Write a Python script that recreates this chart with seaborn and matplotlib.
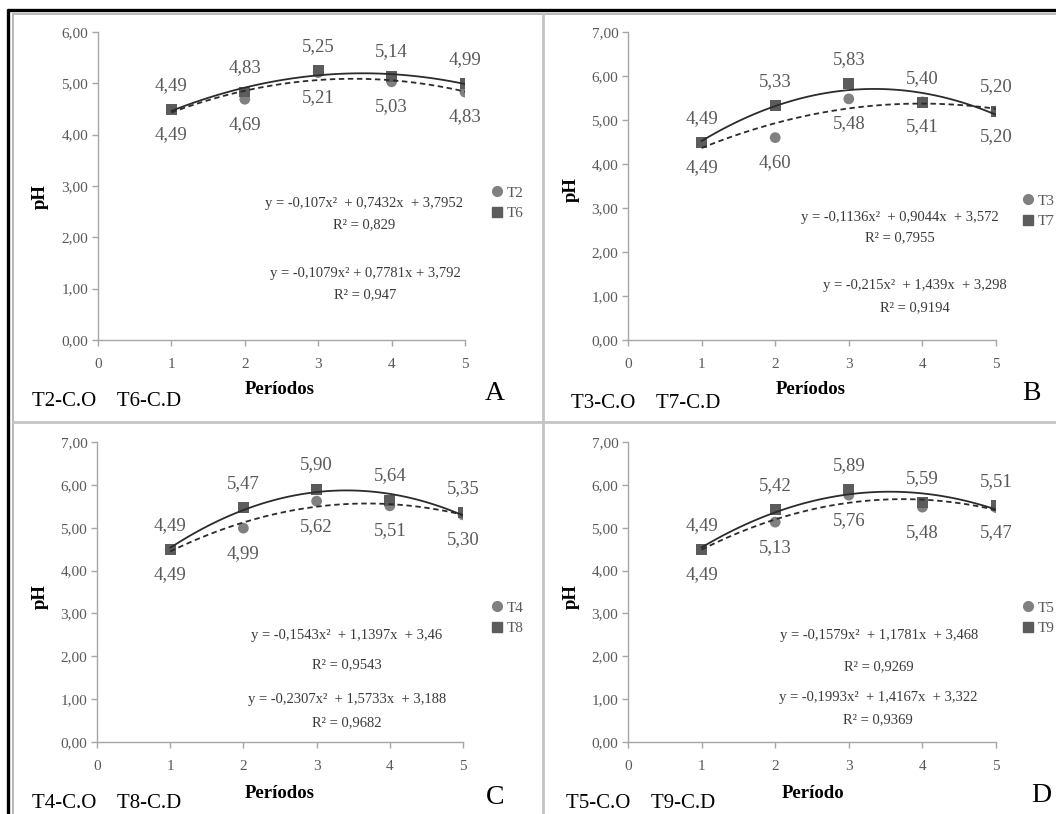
import numpy as np
import pandas as pd
import seaborn as sns
import matplotlib
matplotlib.use("Agg")
import matplotlib.pyplot as plt
from matplotlib.lines import Line2D

# ---------------- data ----------------
periods = [1, 2, 3, 4, 5]
t2 = [4.49, 4.69, 5.21, 5.03, 4.83]
t6 = [4.49, 4.83, 5.25, 5.14, 4.99]
t3 = [4.49, 4.60, 5.48, 5.41, 5.20]
t7 = [4.49, 5.33, 5.83, 5.40, 5.20]
t4 = [4.49, 4.99, 5.62, 5.51, 5.30]
t8 = [4.49, 5.47, 5.90, 5.64, 5.35]
t5 = [4.49, 5.13, 5.76, 5.48, 5.47]
t9 = [4.49, 5.42, 5.89, 5.59, 5.51]

circle_series = [t2, t3, t4, t5]
square_series = [t6, t7, t8, t9]
circle_names = ["T2", "T3", "T4", "T5"]
square_names = ["T6", "T7", "T8", "T9"]
panel_letters = ["A", "B", "C", "D"]
corner_labels = ["T2-C.O    T6-C.D", "T3-C.O    T7-C.D",
                 "T4-C.O    T8-C.D", "T5-C.O    T9-C.D"]
x_titles = ["Períodos", "Períodos", "Períodos", "Período"]
y_tops = [6, 7, 7, 7]
eq_circle = ["y = -0,107x²  + 0,7432x  + 3,7952",
             "y = -0,1136x²  + 0,9044x  + 3,572",
             "y = -0,1543x²  + 1,1397x  + 3,46",
             "y = -0,1579x²  + 1,1781x  + 3,468"]
r2_circle = ["R² = 0,829", "R² = 0,7955", "R² = 0,9543", "R² = 0,9269"]
eq_square = ["y = -0,1079x² + 0,7781x + 3,792",
             "y = -0,215x²  + 1,439x  + 3,298",
             "y = -0,2307x²  + 1,5733x  + 3,188",
             "y = -0,1993x²  + 1,4167x  + 3,322"]
r2_square = ["R² = 0,947", "R² = 0,9194", "R² = 0,9682", "R² = 0,9369"]

# ---------------- layout (pixels) ----------------
W, H = 1056, 814
axes_px = [(98, 32, 465, 340), (628, 32, 996, 340),
           (97, 442, 463, 742), (628, 442, 996, 742)]
eq_px = [[(364, 203), (364, 225), (365, 273), (365, 295)],
         [(900, 217), (900, 238), (915, 285), (915, 308)],
         [(347, 635), (347, 665), (347, 700), (347, 723)],
         [(879, 635), (879, 667), (878, 698), (878, 720)]]
ph_px = [(40, 197), (571, 190), (40, 597), (571, 597)]
xl_px = [(280, 390), (811, 390), (280, 793), (813, 793)]
corner_px = [(32, 402), (571, 403), (32, 803), (566, 803)]
letter_px = [(495, 393), (1031, 393), (495, 797), (1041, 795)]
legend_px = [(497, 195), (1028, 203), (497, 610), (1028, 610)]

sns.set_theme(style="white")
plt.rcParams["font.family"] = ["Liberation Serif", "DejaVu Serif"]

fig = plt.figure(figsize=(W / 100, H / 100), dpi=100)


def fx(x):
    return x / W


def fy(y):
    return 1 - y / H


circ_col = "#808080"
sq_col = "#5c5c5c"
txt_col = "#595959"

for i in range(4):
    l, t, r, b = axes_px[i]
    ax = fig.add_axes([fx(l), fy(b), (r - l) / W, (b - t) / H])
    df = pd.DataFrame({"Período": periods, "circ": circle_series[i], "sq": square_series[i]})

    sns.scatterplot(data=df, x="Período", y="circ", ax=ax, marker="o", s=60,
                    color=circ_col, edgecolor="none", zorder=3, legend=False)
    sns.scatterplot(data=df, x="Período", y="sq", ax=ax, marker="s", s=60,
                    color=sq_col, edgecolor="none", zorder=3, legend=False)
    sns.regplot(data=df, x="Período", y="circ", ax=ax, order=2, ci=None, scatter=False,
                line_kws=dict(color="#2b2b2b", lw=1.3, ls=(0, (3, 2)), zorder=4))
    sns.regplot(data=df, x="Período", y="sq", ax=ax, order=2, ci=None, scatter=False,
                line_kws=dict(color="#2b2b2b", lw=1.3, ls="-", zorder=4))

    for xv, cv, sv in zip(periods, circle_series[i], square_series[i]):
        ax.annotate(f"{sv:.2f}".replace(".", ","), (xv, sv), xytext=(0, 17.5),
                    textcoords="offset points", ha="center", va="center",
                    fontsize=13.5, color=txt_col)
        ax.annotate(f"{cv:.2f}".replace(".", ","), (xv, cv), xytext=(0, -18),
                    textcoords="offset points", ha="center", va="center",
                    fontsize=13.5, color=txt_col)

    ax.set_xlim(0, 5)
    ax.set_ylim(0, y_tops[i])
    ax.set_xticks(range(0, 6))
    ax.set_yticks(range(0, y_tops[i] + 1))
    ax.set_yticklabels([f"{v:.2f}".replace(".", ",") for v in range(0, y_tops[i] + 1)])
    ax.set_xlabel("")
    ax.set_ylabel("")
    for s in ["top", "right"]:
        ax.spines[s].set_visible(False)
    for s in ["left", "bottom"]:
        ax.spines[s].set_color("#a6a6a6")
        ax.spines[s].set_linewidth(1.0)
    ax.tick_params(axis="both", which="major", direction="out", length=4, width=1,
                   color="#a6a6a6", labelsize=11, labelcolor=txt_col, left=True, bottom=True)
    ax.tick_params(axis="x", pad=9)
    ax.tick_params(axis="y", pad=3)
    ax.set_facecolor("white")

    # equations
    texts = [eq_circle[i], r2_circle[i], eq_square[i], r2_square[i]]
    for (px, py), s in zip(eq_px[i], texts):
        fig.text(fx(px), fy(py), s, ha="center", va="center", fontsize=10.5, color="#3a3a3a")

    fig.text(fx(ph_px[i][0]), fy(ph_px[i][1]), "pH", rotation=90, ha="center", va="center",
             fontsize=13.5, fontweight="bold", color="black")
    fig.text(fx(xl_px[i][0]), fy(xl_px[i][1]), x_titles[i], ha="center", va="center",
             fontsize=13.5, fontweight="bold", color="black")
    fig.text(fx(corner_px[i][0]), fy(corner_px[i][1]), corner_labels[i], ha="left", va="center",
             fontsize=15, color="black")
    fig.text(fx(letter_px[i][0]), fy(letter_px[i][1]), panel_letters[i], ha="center", va="center",
             fontsize=20, color="black")

    handles = [Line2D([], [], marker="o", ls="none", color=circ_col, markersize=7),
               Line2D([], [], marker="s", ls="none", color=sq_col, markersize=7)]
    mx, my = legend_px[i]
    ax.legend(handles, [circle_names[i], square_names[i]], loc="upper left",
              bbox_to_anchor=(fx(mx - 6), fy(my - 9)), bbox_transform=fig.transFigure,
              frameon=False, borderpad=0, borderaxespad=0, handlelength=0.8,
              handletextpad=0.2, labelspacing=0.45, fontsize=11,
              labelcolor=txt_col)

# frame lines / dividers
def fline(x0, y0, x1, y1, color, lw):
    fig.add_artist(Line2D([fx(x0), fx(x1)], [fy(y0), fy(y1)], color=color, lw=lw,
                          transform=fig.transFigure))

fline(8, 10, W, 10, "black", 2.4)
fline(8, 10, 8, H, "black", 2.4)
fline(13, 14, W, 14, "#b8b8b8", 1.4)
fline(13, 14, 13, H, "#b8b8b8", 1.4)
fline(543, 14, 543, H, "#c4c4c4", 2.0)
fline(13, 422, W, 422, "#c4c4c4", 2.0)

fig.savefig("out.png", dpi=100)
